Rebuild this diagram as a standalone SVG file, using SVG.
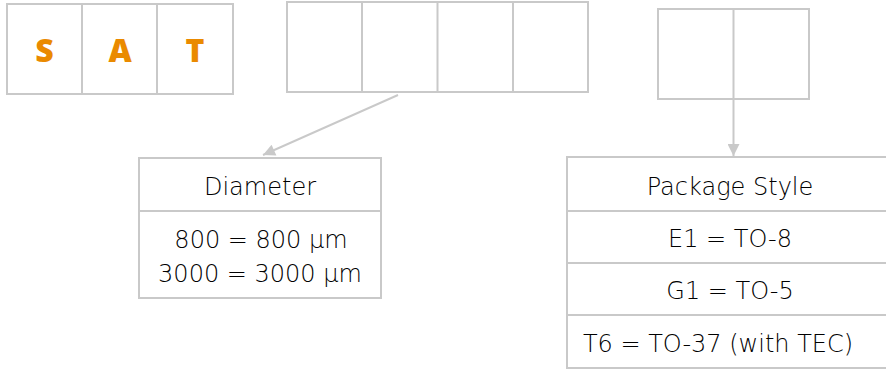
<svg xmlns="http://www.w3.org/2000/svg" width="886" height="369" viewBox="0 0 886 369">
<style>
.box{fill:#fff;stroke:#c9c9c9;stroke-width:2}
.div{stroke:#c9c9c9;stroke-width:2}
.lbl{font-family:"DejaVu Sans","Open Sans",sans-serif;font-weight:200;font-size:24px;fill:#000;text-anchor:middle}
.sat{font-family:"Open Sans","Liberation Sans",sans-serif;font-weight:800;font-size:32px;fill:#ea8a00;text-anchor:middle}
.conn{stroke:#c9c9c9;stroke-width:2;fill:none}
</style>
<defs>
<marker id="ah" viewBox="0 0 10 10" refX="10" refY="5" markerWidth="15" markerHeight="12" markerUnits="userSpaceOnUse" orient="auto">
<path d="M0,0 L10,5 L0,10 z" fill="#c9c9c9"/>
</marker>
</defs>
<rect width="886" height="369" fill="#fff"/>
<g id="code-sat">
<rect class="box" x="7" y="4" width="226" height="90"/>
<line class="div" x1="82" y1="4" x2="82" y2="94"/>
<line class="div" x1="157" y1="4" x2="157" y2="94"/>
<text class="sat" x="44.5" y="62">S</text>
<text class="sat" x="120" y="62">A</text>
<text class="sat" x="195" y="62">T</text>
</g>
<g id="code-diameter">
<rect class="box" x="287" y="2" width="301" height="90"/>
<line class="div" x1="362" y1="2" x2="362" y2="92"/>
<line class="div" x1="437.5" y1="2" x2="437.5" y2="92"/>
<line class="div" x1="513" y1="2" x2="513" y2="92"/>
</g>
<g id="code-package">
<rect class="box" x="658" y="9" width="151" height="90"/>
<line class="div" x1="733.5" y1="9" x2="733.5" y2="99"/>
</g>
<g id="connectors">
<line class="conn" x1="398" y1="95" x2="263" y2="155" marker-end="url(#ah)"/>
<line class="conn" x1="733.5" y1="99" x2="733.5" y2="156" marker-end="url(#ah)"/>
</g>
<g id="diameter-table">
<rect class="box" x="139" y="158" width="242" height="140"/>
<line class="div" x1="139" y1="211" x2="381" y2="211"/>
<text class="lbl" x="260" y="195">Diameter</text>
<text class="lbl" x="261" y="248">800 = 800 μm</text>
<text class="lbl" x="260" y="282">3000 = 3000 μm</text>
</g>
<g id="package-table">
<rect class="box" x="567" y="157" width="330" height="211"/>
<line class="div" x1="567" y1="211" x2="897" y2="211"/>
<line class="div" x1="567" y1="263" x2="897" y2="263"/>
<line class="div" x1="567" y1="315" x2="897" y2="315"/>
<text class="lbl" x="730" y="195">Package Style</text>
<text class="lbl" x="730" y="247">E1 = TO-8</text>
<text class="lbl" x="730" y="299">G1 = TO-5</text>
<text class="lbl" x="718" y="352">T6 = TO-37 (with TEC)</text>
</g>
</svg>
